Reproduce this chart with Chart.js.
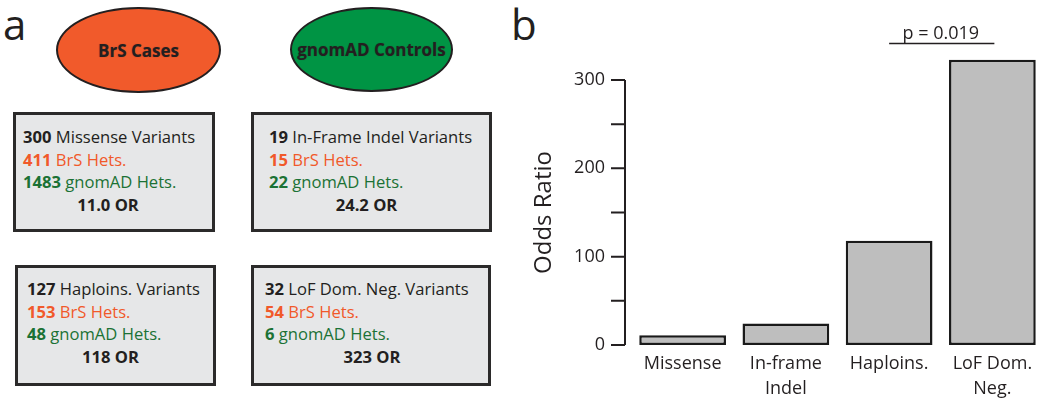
<!DOCTYPE html>
<html>
<head>
<meta charset="utf-8">
<script src="https://cdn.jsdelivr.net/npm/chart.js@4.4.0/dist/chart.umd.min.js"></script>
<style>
  body { margin: 0; background: #fff; font-family: "Open Sans", sans-serif; color: #231f20; }
  #wrap { position: relative; width: 1050px; height: 405px; overflow: hidden; }
  .panel { position: absolute; font-size: 42px; line-height: 42px; }
  .oval { position: absolute; box-sizing: border-box; border: 2px solid #231f20; border-radius: 50%;
          display: flex; align-items: center; justify-content: center; font-weight: 700; font-size: 17px;
          text-shadow: 0 0 1px rgba(35,31,32,0.4); }
  .box { position: absolute; box-sizing: border-box; border: 3px solid #2b2a2a; background: #e6e7e8;
         font-size: 16.6px; line-height: 22.7px; }
  .box .txt { position: absolute; white-space: nowrap; }
  .box .or { position: absolute; left: 0; width: 100%; text-align: center; font-weight: 700; white-space: nowrap; }
  .num { font-weight: 700; }
  .brs { color: #f1592a; }
  .gad { color: #1b7235; }
  #chartBox { position: absolute; left: 520px; top: 0; }
</style>
</head>
<body>
<div id="wrap">
  <div class="panel" style="left:3px;top:3px;">a</div>
  <div class="panel" style="left:511px;top:3px;">b</div>
  <div class="oval" style="left:56px;top:7px;width:165px;height:86px;background:#f15a2b;">BrS Cases</div>
  <div class="oval" style="left:290px;top:7px;width:163px;height:85px;background:#009444;">gnomAD Controls</div>
  <div id="boxes"></div>
  <div id="chartBox"><canvas id="oddsChart" width="530" height="405"></canvas></div>
</div>
<script>
// variant classes and counts (panel a)
const variantNames = ['Missense', 'In-Frame Indel', 'Haploins.', 'LoF Dom. Neg.'];
const variantCounts = [300, 19, 127, 32];
const brsHets = [411, 15, 153, 54];
const gnomadHets = [1483, 22, 48, 6];
const orText = ['11.0', '24.2', '118', '323'];

// bar chart (panel b)
const barLabels = ['Missense', ['In-frame', 'Indel'], 'Haploins.', ['LoF Dom.', 'Neg.']];
const oddsRatios = [11.0, 24.2, 118, 323];
const yMin = 0, yMax = 300, yStep = 50;
const pTest = { from: 2, to: 3, level: 341.5, label: 'p = 0.019' };

// box placement
const boxLayout = [
  { left: 13, top: 112, w: 202, h: 120, tx: 7, ty: 11, orShift: -6 },
  { left: 251, top: 112, w: 241, h: 120, tx: 15, ty: 11, orShift: -5 },
  { left: 15, top: 265, w: 201, h: 121, tx: 9, ty: 10, orShift: -5 },
  { left: 251, top: 265, w: 240, h: 121, tx: 11, ty: 10, orShift: 1 }
];

var boxes = document.getElementById('boxes');
boxLayout.forEach(function(b, i) {
  var d = document.createElement('div');
  d.className = 'box';
  d.style.cssText = 'left:' + b.left + 'px;top:' + b.top + 'px;width:' + b.w + 'px;height:' + b.h + 'px;';
  d.innerHTML =
    '<div class="txt" style="left:' + b.tx + 'px;top:' + b.ty + 'px;">' +
      '<div><span class="num">' + variantCounts[i] + '</span> ' + variantNames[i] + ' Variants</div>' +
      '<div class="brs"><span class="num">' + brsHets[i] + '</span> BrS Hets.</div>' +
      '<div class="gad"><span class="num">' + gnomadHets[i] + '</span> gnomAD Hets.</div>' +
    '</div>' +
    '<div class="or" style="top:' + (b.ty + 22.7 * 3) + 'px;transform:translateX(' + b.orShift + 'px);">' + orText[i] + ' OR</div>';
  boxes.appendChild(d);
});

// R-style axis, drawn a little left of the bars, plus the p-value bracket
const rAxis = {
  id: 'rAxis',
  afterDraw(chart) {
    const { ctx, chartArea, scales: { x, y } } = chart;
    const ax = chartArea.left - 6;
    ctx.save();
    ctx.strokeStyle = '#231f20';
    ctx.lineWidth = 2;
    ctx.beginPath();
    ctx.moveTo(ax, y.getPixelForValue(yMin));
    ctx.lineTo(ax, y.getPixelForValue(yMax));
    y.ticks.forEach(t => {
      const py = y.getPixelForValue(t.value);
      ctx.moveTo(ax - 14, py);
      ctx.lineTo(ax, py);
    });
    ctx.stroke();

    const x1 = x.getPixelForValue(pTest.from);
    const x2 = x.getPixelForValue(pTest.to);
    const py = Math.round(y.getPixelForValue(pTest.level)) + 0.5;
    ctx.lineWidth = 1.5;
    ctx.beginPath();
    ctx.moveTo(x1, py);
    ctx.lineTo(x2 + 2, py);
    ctx.stroke();
    ctx.font = '18px "Open Sans"';
    ctx.fillStyle = '#231f20';
    ctx.textAlign = 'center';
    ctx.textBaseline = 'alphabetic';
    ctx.fillText(pTest.label, (x1 + x2) / 2, py - 5);
    ctx.restore();
  }
};

Chart.defaults.font.family = '"Open Sans"';
Chart.defaults.color = '#231f20';

var ctx = document.getElementById('oddsChart').getContext('2d');
var oddsChart = new Chart(ctx, {
  type: 'bar',
  data: {
    labels: barLabels,
    datasets: [{
      data: oddsRatios,
      backgroundColor: '#bebebe',
      borderColor: '#1a1a1a',
      borderWidth: 2.5,
      borderSkipped: false,
      barPercentage: 0.84,
      categoryPercentage: 1,
      clip: false
    }]
  },
  options: {
    responsive: false,
    animation: false,
    layout: { padding: { top: 80, right: 6, left: 0, bottom: 0 } },
    plugins: { legend: { display: false }, tooltip: { enabled: false } },
    scales: {
      x: {
        grid: { display: false, drawTicks: false },
        border: { display: false },
        ticks: { font: { size: 18, lineHeight: 1.39 }, padding: 6, maxRotation: 0, autoSkip: false },
        afterFit: s => { s.height = 60; }
      },
      y: {
        min: yMin,
        max: yMax,
        grid: { display: false, drawTicks: false },
        border: { display: false },
        ticks: {
          stepSize: yStep,
          padding: 26,
          font: { size: 18 },
          callback: v => (v % 100 === 0 ? v : '')
        },
        title: { display: true, text: 'Odds Ratio', font: { size: 24 }, padding: { top: 10, bottom: 0 } },
        afterFit: s => { s.width = 111; }
      }
    }
  },
  plugins: [rAxis]
});
</script>
</body>
</html>
